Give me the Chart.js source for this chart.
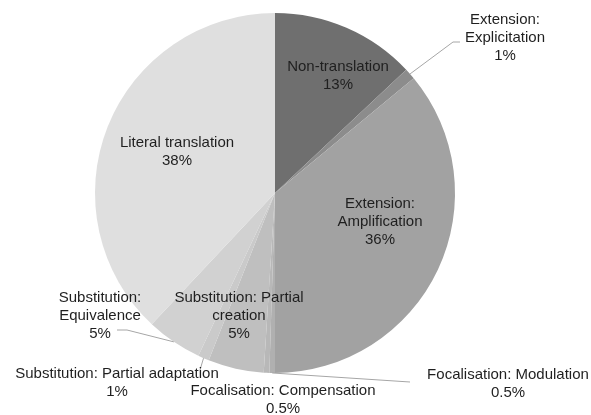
<!DOCTYPE html>
<html>
<head>
<meta charset="utf-8">
<script src="https://cdn.jsdelivr.net/npm/chart.js@4/dist/chart.umd.min.js"></script>
<style>
  html, body { margin: 0; padding: 0; background: #ffffff; }
  #wrap { width: 591px; height: 415px; }
</style>
</head>
<body>
<div id="wrap"><canvas id="pieChart" width="591" height="415"></canvas></div>
<script>
(function () {
  // categories (line breaks as in the reference labels)
  const categories = [
    ["Non-translation"],
    ["Extension:", "Explicitation"],
    ["Extension:", "Amplification"],
    ["Focalisation: Modulation"],
    ["Focalisation: Compensation"],
    ["Substitution: Partial", "creation"],
    ["Substitution: Partial adaptation"],
    ["Substitution:", "Equivalence"],
    ["Literal translation"]
  ];
  const shares = [13, 1, 36, 0.5, 0.5, 5, 1, 5, 38];
  const sliceColors = ["#6f6f6f", "#8c8c8c", "#a2a2a2", "#b0b0b0", "#b8b8b8", "#bfbfbf", "#cacaca", "#d1d1d1", "#dfdfdf"];

  // label placement relative to the pie centre; leader = points the line runs to
  const labelPlacement = [
    { dx: 63, dy: -117 },
    { dx: 230, dy: -155, leader: [[178, -151], [185, -151]] },
    { dx: 105, dy: 29 },
    { dx: 233, dy: 191, leader: [[135, 189]] },
    { dx: 8, dy: 207 },
    { dx: -36, dy: 123 },
    { dx: -158, dy: 190, leader: [[-75, 177]] },
    { dx: -175, dy: 123, leader: [[-148, 137], [-158, 137]] },
    { dx: -98, dy: -41 }
  ];

  const pieLabels = {
    id: "pieLabels",
    afterDatasetsDraw: function (chart) {
      const ctx = chart.ctx;
      const meta = chart.getDatasetMeta(0);
      ctx.save();
      ctx.font = "15px 'Liberation Sans', Arial, sans-serif";
      ctx.textAlign = "center";
      ctx.textBaseline = "middle";
      meta.data.forEach(function (arc, i) {
        const props = arc.getProps(["x", "y", "startAngle", "endAngle", "outerRadius"], true);
        const place = labelPlacement[i];
        if (place.leader) {
          const mid = (props.startAngle + props.endAngle) / 2;
          ctx.beginPath();
          ctx.moveTo(props.x + Math.cos(mid) * props.outerRadius, props.y + Math.sin(mid) * props.outerRadius);
          place.leader.forEach(function (p) {
            ctx.lineTo(props.x + p[0], props.y + p[1]);
          });
          ctx.strokeStyle = "#a6a6a6";
          ctx.lineWidth = 1;
          ctx.stroke();
        }
        const lines = categories[i].concat([shares[i] + "%"]);
        const lineHeight = 18;
        const top = props.y + place.dy - (lines.length - 1) * lineHeight / 2;
        ctx.fillStyle = "#1f1f1f";
        lines.forEach(function (text, k) {
          ctx.fillText(text, props.x + place.dx, top + k * lineHeight);
        });
      });
      ctx.restore();
    }
  };

  new Chart(document.getElementById("pieChart"), {
    type: "pie",
    data: {
      labels: categories,
      datasets: [
        {
          data: shares,
          backgroundColor: sliceColors,
          borderWidth: 0
        }
      ]
    },
    options: {
      responsive: false,
      animation: false,
      layout: {
        padding: { top: 13, bottom: 42, left: 0, right: 41 }
      },
      plugins: {
        legend: { display: false },
        tooltip: { enabled: false }
      }
    },
    plugins: [pieLabels]
  });
}());
</script>
</body>
</html>
